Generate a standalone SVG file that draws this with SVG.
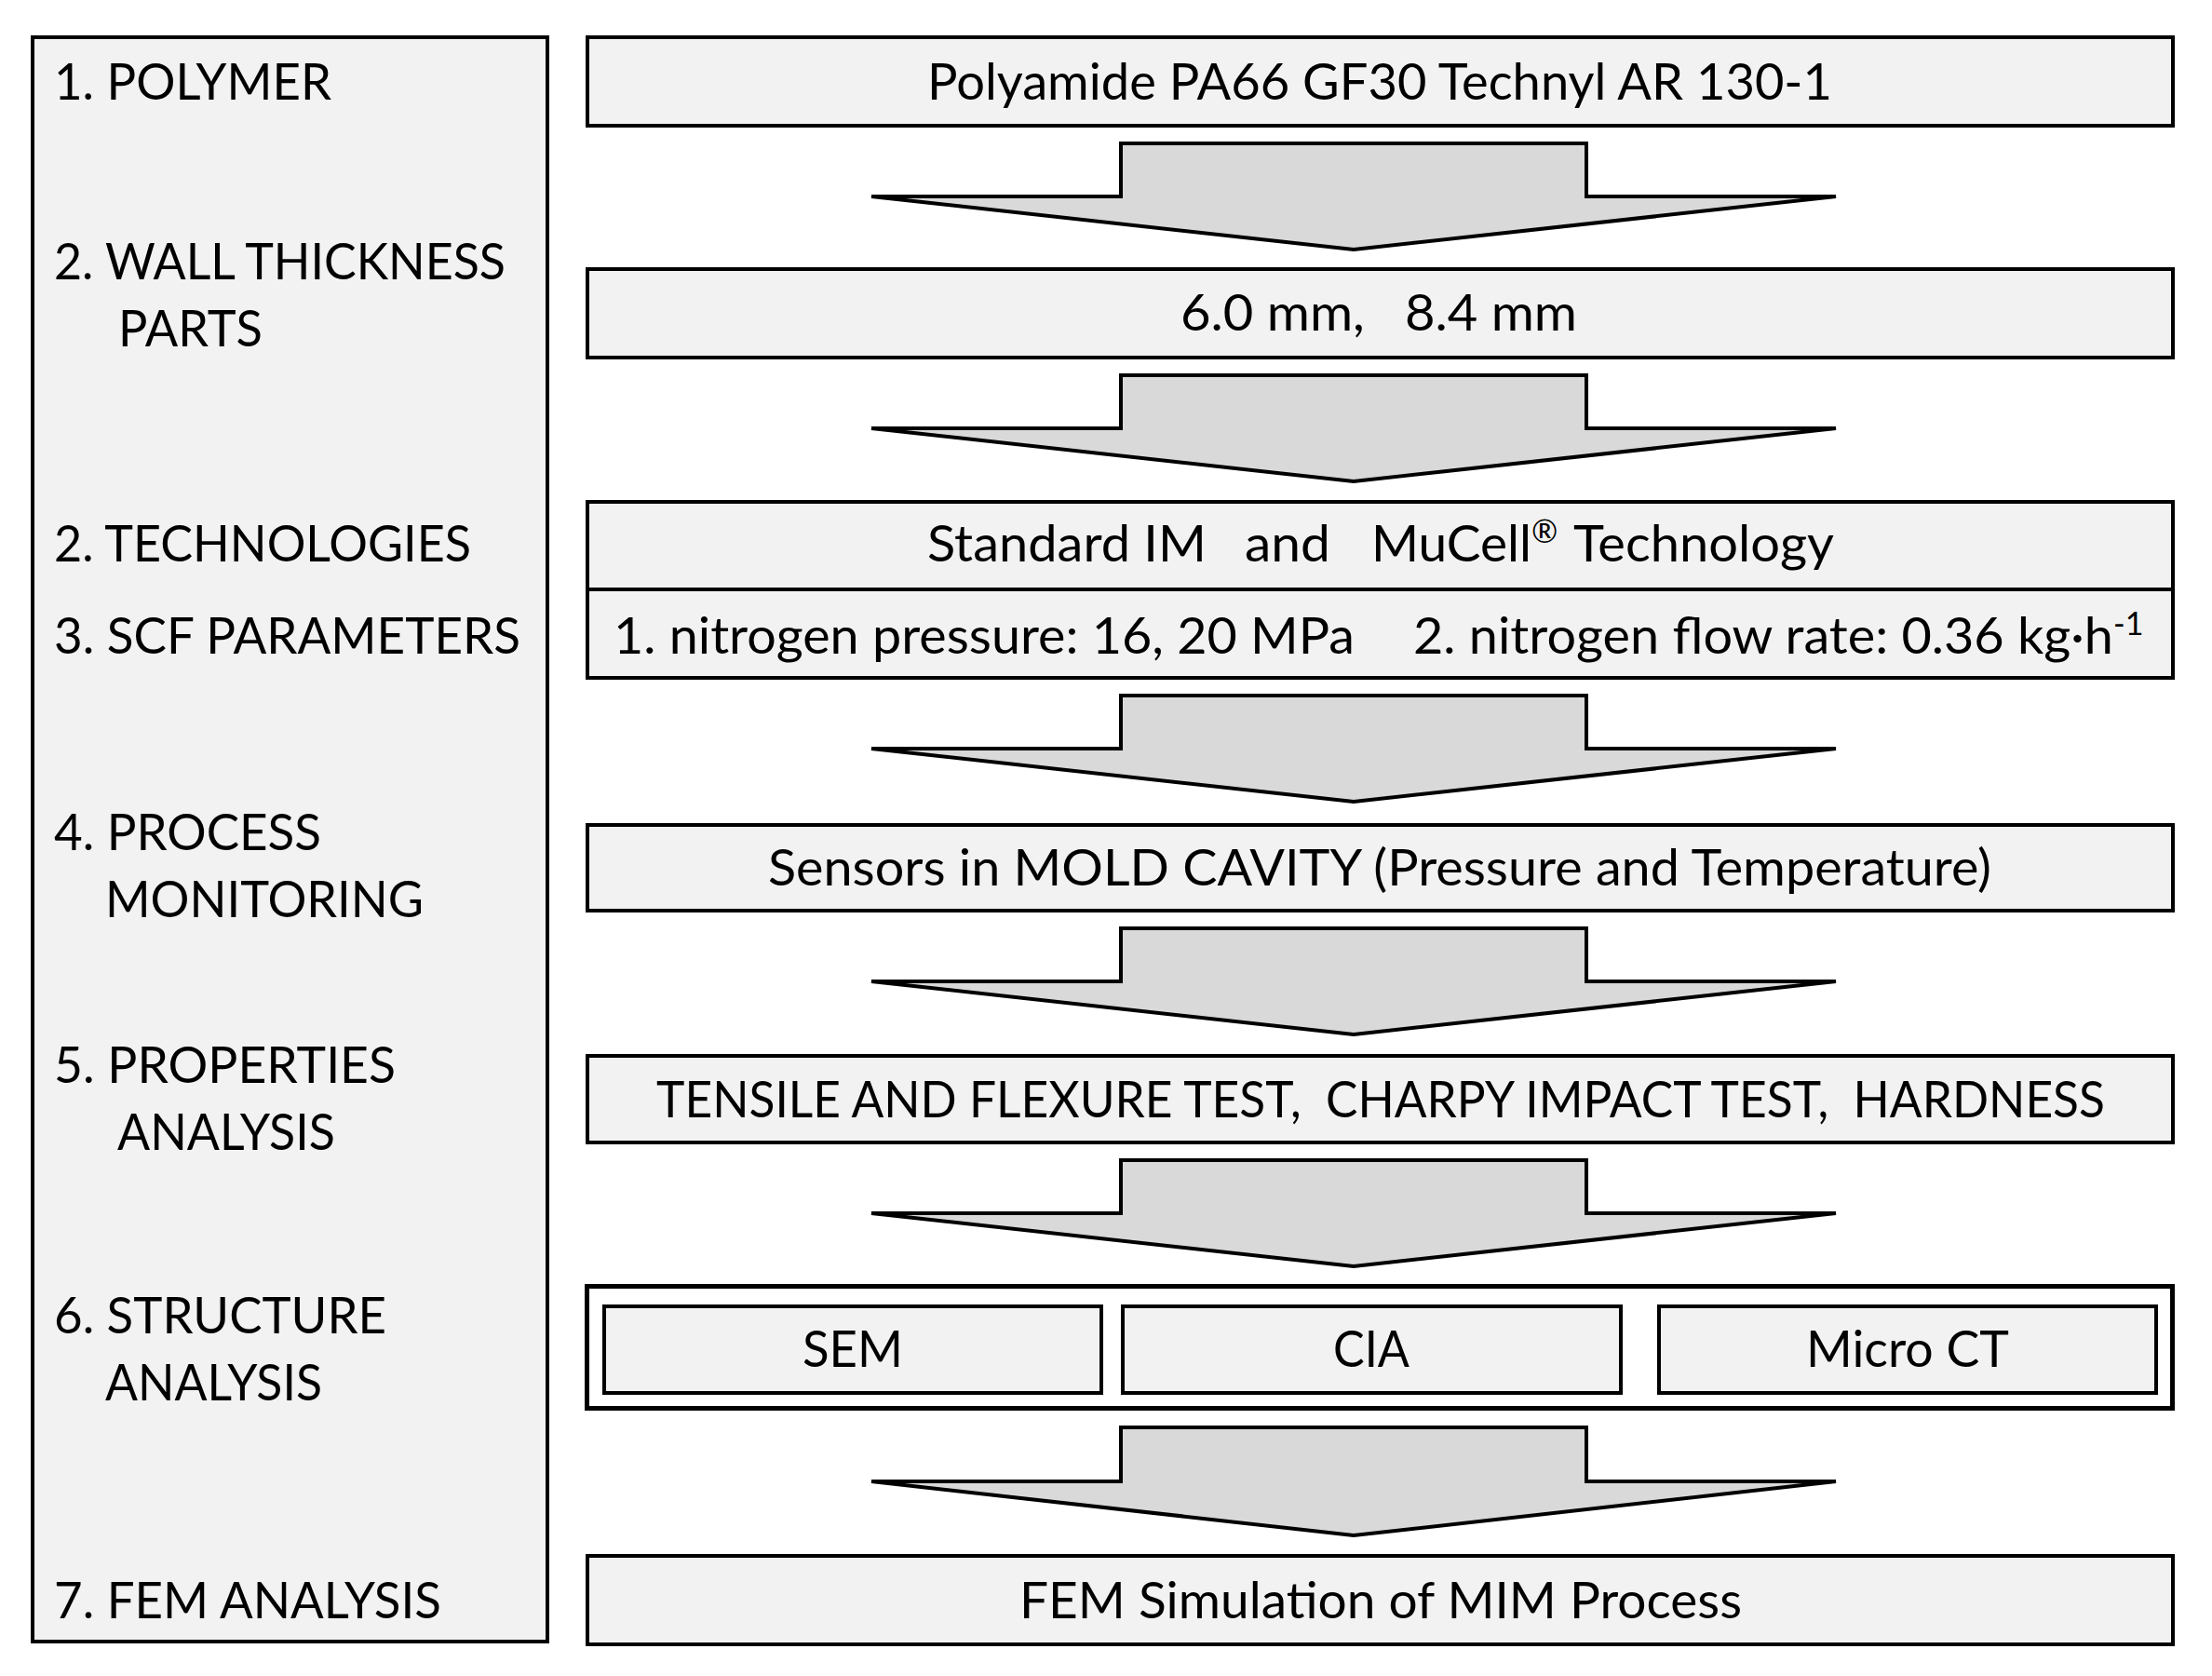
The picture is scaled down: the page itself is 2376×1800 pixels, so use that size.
<svg xmlns="http://www.w3.org/2000/svg" width="2376" height="1800" viewBox="0 0 2376 1800">
<style>
.box{fill:#f2f2f2;stroke:#000;stroke-width:4}
.outer{fill:#fff;stroke:#000;stroke-width:5}
.arrow{fill:#d9d9d9;stroke:#000;stroke-width:4}
text{font-family:Lato,"Open Sans","Liberation Sans",sans-serif;font-size:54px;fill:#000}
.c{text-anchor:middle}
.sup{font-size:34px}
</style>
<rect x="0" y="0" width="2376" height="1800" fill="#fff"/>
<g id="stages">
<rect class="box" x="35" y="40" width="553" height="1723"/>
<text x="58" y="107" textLength="298" lengthAdjust="spacingAndGlyphs">1. POLYMER</text>
<text x="58" y="300" textLength="485" lengthAdjust="spacingAndGlyphs">2. WALL THICKNESS</text>
<text x="127" y="372" textLength="155" lengthAdjust="spacingAndGlyphs">PARTS</text>
<text x="58" y="603" textLength="448" lengthAdjust="spacingAndGlyphs">2. TECHNOLOGIES</text>
<text x="58" y="702" textLength="501" lengthAdjust="spacingAndGlyphs">3. SCF PARAMETERS</text>
<text x="58" y="913" textLength="287" lengthAdjust="spacingAndGlyphs">4. PROCESS</text>
<text x="113" y="985" textLength="342" lengthAdjust="spacingAndGlyphs">MONITORING</text>
<text x="58" y="1163" textLength="367" lengthAdjust="spacingAndGlyphs">5. PROPERTIES</text>
<text x="126" y="1235" textLength="234" lengthAdjust="spacingAndGlyphs">ANALYSIS</text>
<text x="58" y="1432" textLength="357" lengthAdjust="spacingAndGlyphs">6. STRUCTURE</text>
<text x="113" y="1504" textLength="233" lengthAdjust="spacingAndGlyphs">ANALYSIS</text>
<text x="58" y="1738" textLength="416" lengthAdjust="spacingAndGlyphs">7. FEM ANALYSIS</text>
</g>
<g id="polymer">
<rect class="box" x="631" y="40" width="1703" height="95"/>
<text class="c" x="1482" y="107" textLength="972" lengthAdjust="spacingAndGlyphs">Polyamide PA66 GF30 Technyl AR 130-1</text>
</g>
<g id="thickness">
<rect class="box" x="631" y="289" width="1703" height="95"/>
<text class="c" x="1481" y="355" xml:space="preserve" textLength="426" lengthAdjust="spacingAndGlyphs">6.0 mm,   8.4 mm</text>
</g>
<g id="technologies">
<rect class="box" x="631" y="539" width="1703" height="189"/>
<line x1="631" y1="633" x2="2334" y2="633" stroke="#000" stroke-width="4"/>
<text y="603" xml:space="preserve"><tspan x="996" textLength="300" lengthAdjust="spacingAndGlyphs">Standard IM</tspan>   <tspan x="1337" textLength="92" lengthAdjust="spacingAndGlyphs">and</tspan>   <tspan x="1473" textLength="172" lengthAdjust="spacingAndGlyphs">MuCell</tspan><tspan class="sup" dy="-20">®</tspan><tspan x="1690" dy="20" textLength="280" lengthAdjust="spacingAndGlyphs">Technology</tspan></text>
<text y="702" xml:space="preserve"><tspan x="659" textLength="796" lengthAdjust="spacingAndGlyphs">1. nitrogen pressure: 16, 20 MPa</tspan>   <tspan x="1518" textLength="752" lengthAdjust="spacingAndGlyphs">2. nitrogen flow rate: 0.36 kg·h</tspan><tspan class="sup" dy="-20">-1</tspan></text>
</g>
<g id="monitoring">
<rect class="box" x="631" y="886" width="1703" height="92"/>
<text class="c" x="1482" y="951" textLength="1314" lengthAdjust="spacingAndGlyphs">Sensors in MOLD CAVITY (Pressure and Temperature)</text>
</g>
<g id="properties">
<rect class="box" x="631" y="1134" width="1703" height="93"/>
<text class="c" x="1483" y="1200" xml:space="preserve" textLength="1556" lengthAdjust="spacingAndGlyphs">TENSILE AND FLEXURE TEST,  CHARPY IMPACT TEST,  HARDNESS</text>
</g>
<g id="structure">
<rect class="outer" x="630.5" y="1381.5" width="1703" height="131"/>
<g id="sem">
<rect class="box" x="649" y="1403" width="534" height="93"/>
<text class="c" x="916" y="1468" textLength="108" lengthAdjust="spacingAndGlyphs">SEM</text>
</g>
<g id="cia">
<rect class="box" x="1206" y="1403" width="535" height="93"/>
<text class="c" x="1473" y="1468" textLength="82" lengthAdjust="spacingAndGlyphs">CIA</text>
</g>
<g id="microct">
<rect class="box" x="1782" y="1403" width="534" height="93"/>
<text class="c" x="2049" y="1468" textLength="218" lengthAdjust="spacingAndGlyphs">Micro CT</text>
</g>
</g>
<g id="fem">
<rect class="box" x="631" y="1671" width="1703" height="95"/>
<text class="c" x="1483" y="1738" textLength="776" lengthAdjust="spacingAndGlyphs">FEM Simulation of MIM Process</text>
</g>
<g id="connectors">
<polygon class="arrow" points="1204,154 1704,154 1704,211 1972,211 1454,268 936,211 1204,211"/>
<polygon class="arrow" points="1204,403 1704,403 1704,460 1972,460 1454,517 936,460 1204,460"/>
<polygon class="arrow" points="1204,747 1704,747 1704,804 1972,804 1454,861 936,804 1204,804"/>
<polygon class="arrow" points="1204,997 1704,997 1704,1054 1972,1054 1454,1111 936,1054 1204,1054"/>
<polygon class="arrow" points="1204,1246 1704,1246 1704,1303 1972,1303 1454,1360 936,1303 1204,1303"/>
<polygon class="arrow" points="1204,1533 1704,1533 1704,1591 1972,1591 1454,1649 936,1591 1204,1591"/>
</g>
</svg>
